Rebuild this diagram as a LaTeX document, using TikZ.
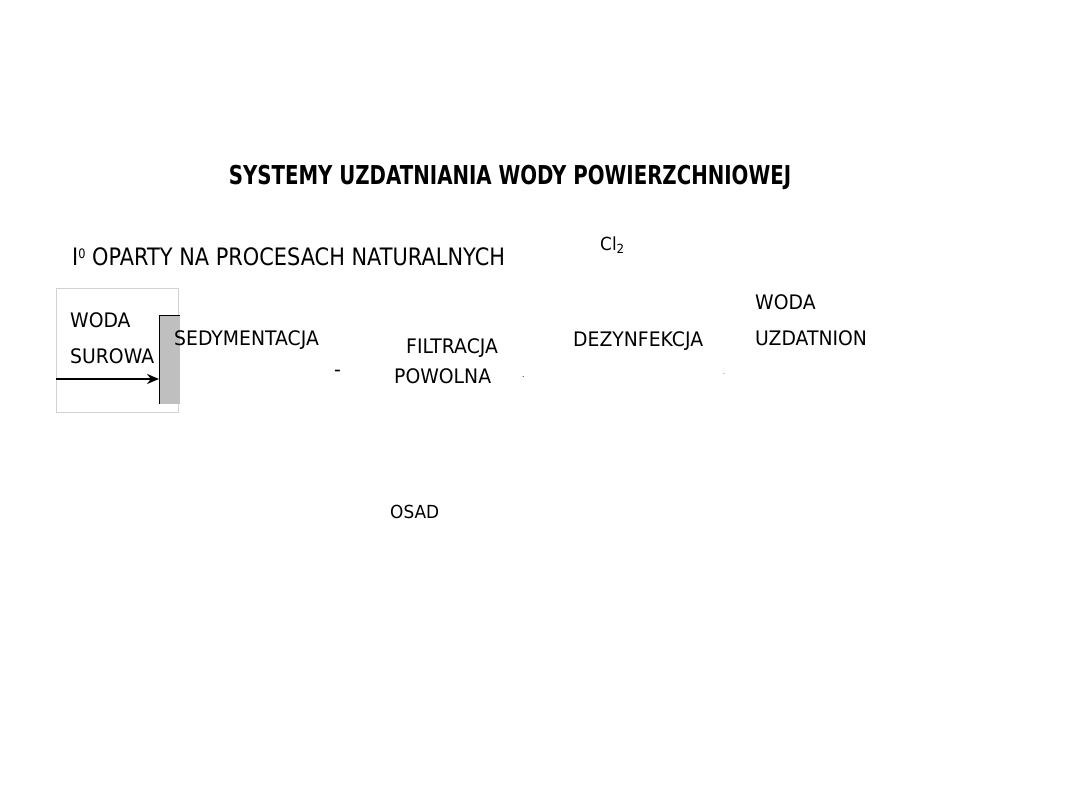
\documentclass[tikz,border=0pt]{standalone}
\usepackage{fontspec}
\setmainfont{DejaVu Sans}
\newfontfamily\wasko[FakeStretch=0.87]{DejaVu Sans}
\newfontfamily\waskomaly[FakeStretch=0.94]{DejaVu Sans}
\newfontfamily\waskobold[FakeStretch=0.76]{DejaVu Sans Bold}
\usetikzlibrary{arrows.meta}

\begin{document}
\begin{tikzpicture}[
    x=1pt, y=-1pt,
    % Tytuł slajdu
    tytul/.style={
        inner sep=0pt,
        font=\waskobold\fontsize{26}{28}\selectfont
    },
    % Zwykłe napisy
    napis/.style={
        inner sep=0pt,
        anchor=west,
        font=\wasko\fontsize{24}{26}\selectfont
    },
    etykieta/.style={
        inner sep=0pt,
        anchor=west,
        font=\waskomaly\fontsize{20}{22}\selectfont
    },
    linia/.style={draw, line width=2pt, -{Stealth[length=12pt, width=10pt]}}
]
\useasboundingbox (0,0) rectangle (1080,810);

% ---- TYTUŁ ----
\node[tytul] (tytul) at (510,177) {SYSTEMY UZDATNIANIA WODY POWIERZCHNIOWEJ};
\node[napis] (podtytul) at (72,257)
    {I\raisebox{7pt}{\fontsize{13}{13}\selectfont 0} OPARTY NA PROCESACH NATURALNYCH};
\node[etykieta, font=\waskomaly\fontsize{18}{20}\selectfont] (chlor) at (600,245) {Cl\textsubscript{2}};

% ---- WODA SUROWA (WLOT) ----
\draw[gray!35, line width=0.8pt] (56,288) rectangle (178,412);
\node[etykieta] (woda1) at (70,320) {WODA};
\node[etykieta] (surowa) at (70,356) {SUROWA};

\node[draw=none, fill=gray!50, inner sep=0pt, minimum width=21pt, minimum height=88pt,
      anchor=north west] (osadnik) at (159,316) {};
\draw[line width=1pt] (osadnik.south west) -- (osadnik.north west) -- (osadnik.north east);

\coordinate (wlot) at (56,379);
\draw[linia] (wlot) -- (osadnik.west |- wlot);

% ---- PROCESY ----
\node[etykieta] (sedym) at (174,340) {SEDYMENTACJA};
\node[etykieta] (kreska) at (334,373) {-};
\node[etykieta] (filtr) at (406,348) {FILTRACJA};
\node[etykieta] (powolna) at (394,376) {POWOLNA};
\node[etykieta, font=\waskomaly\fontsize{8}{8}\selectfont] (kropka1) at (522,377) {.};
\node[etykieta] (dezyn) at (573,341) {DEZYNFEKCJA};
\node[etykieta, font=\waskomaly\fontsize{6}{6}\selectfont] (kropka2) at (723,374) {.};

% ---- WODA UZDATNIONA ----
\node[etykieta] (woda2) at (755,302) {WODA};
\node[etykieta] (uzdat) at (755,338) {UZDATNION};

% ---- OSAD ----
\node[etykieta, font=\waskomaly\fontsize{18}{20}\selectfont] (osad) at (390,512) {OSAD};

\end{tikzpicture}
\end{document}
